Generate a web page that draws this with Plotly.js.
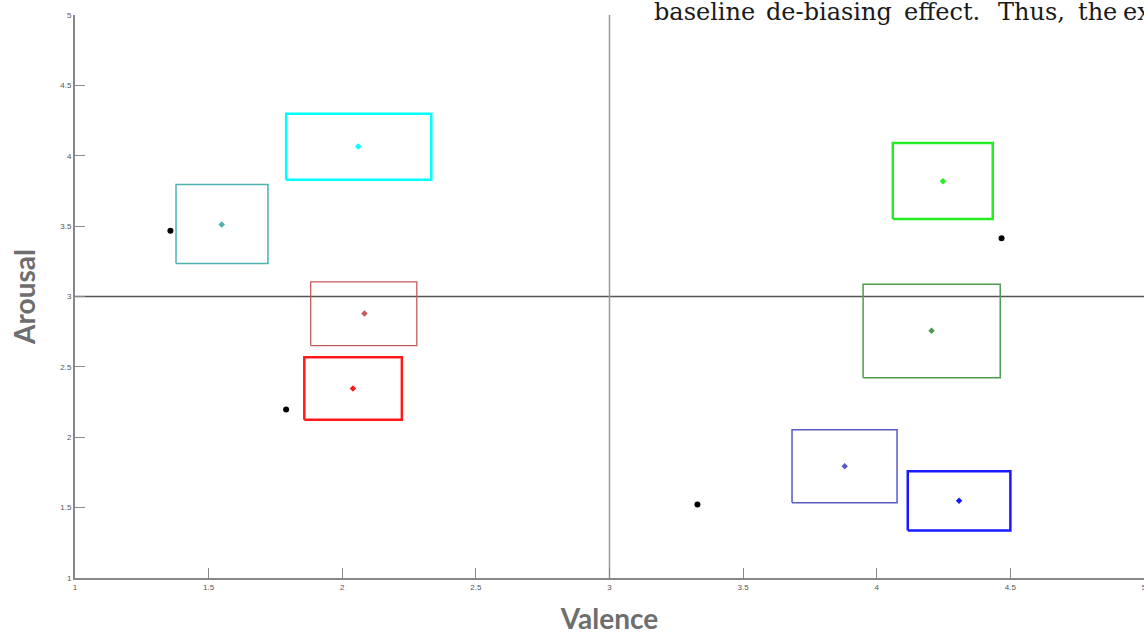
<!DOCTYPE html>
<html><head><meta charset="utf-8">
<script src="https://cdn.plot.ly/plotly-3.0.1.min.js"></script>
<style>html,body{margin:0;padding:0;background:#fff}#chart{width:1144px;height:635px}</style>
</head><body><div id="chart"></div>
<script>
// Rectangles (spread boxes) and their centres
const boxNames   = ['cyan', 'teal', 'darkred', 'red', 'green', 'darkgreen', 'darkblue', 'blue'];
const boxColors  = ['#00ffff', '#4fb0b0', '#c45a5a', '#ff1a1a', '#22ee22', '#4f9a4f', '#5a5ac4', '#1a1aff'];
const boxWidths  = [2.5, 1.5, 1.3, 2.5, 2.5, 1.5, 1.5, 2.5];
const xLow  = [1.790, 1.378, 1.882, 1.858, 4.060, 3.949, 3.683, 4.116];
const xHigh = [2.333, 1.722, 2.279, 2.223, 4.434, 4.462, 4.076, 4.500];
const yLow  = [3.830, 3.234, 2.651, 2.124, 3.551, 2.422, 1.534, 1.337];
const yHigh = [4.299, 3.795, 3.104, 2.568, 4.091, 3.087, 2.053, 1.759];
const centerX = [2.060, 1.549, 2.083, 2.040, 4.248, 4.205, 3.880, 4.308];
const centerY = [4.065, 3.511, 2.879, 2.346, 3.818, 2.756, 1.794, 1.548];
// Black reference points
const refX = [1.357, 1.790, 4.467, 3.329];
const refY = [3.468, 2.197, 3.413, 1.522];
// Neutral lines
const neutral = 3;
const axisMin = 1, axisMax = 5;
const tickVals = [1, 1.5, 2, 2.5, 3, 3.5, 4, 4.5, 5];
const tickText = ['1', '1.5', '2', '2.5', '3', '3.5', '4', '4.5', '5'];
// Overlapping body text from the page (justified words, centre pixel of each word)
const pageWords = ['baseline', 'de-biasing', 'effect.', 'Thus,', 'the', 'ex'];
const pageWordPx = [705, 829, 942, 1031, 1097, 1121];
const pageWordAnchor = ['center', 'center', 'center', 'center', 'center', 'left'];

const traces = [];
traces.push({x:[axisMin, axisMax], y:[neutral, neutral], mode:'lines', line:{color:'#555', width:1.3}, hoverinfo:'skip'});
traces.push({x:[neutral, neutral], y:[axisMin, axisMax], mode:'lines', line:{color:'#999', width:1.5}, hoverinfo:'skip'});
for (let i = 0; i < boxNames.length; i++) {
  traces.push({
    name: boxNames[i],
    x: [xLow[i], xHigh[i], xHigh[i], xLow[i], xLow[i]],
    y: [yLow[i], yLow[i], yHigh[i], yHigh[i], yLow[i]],
    mode: 'lines', line: {color: boxColors[i], width: boxWidths[i]}
  });
  traces.push({
    x: [centerX[i]], y: [centerY[i]], mode: 'markers',
    marker: {symbol: 'diamond', size: 5, color: boxColors[i]}
  });
}
traces.push({x: refX, y: refY, mode: 'markers', marker: {color: '#000', size: 6}});

const annotations = pageWords.map((w, i) => ({
  xref: 'paper', yref: 'paper', x: (pageWordPx[i] - 75) / 1069, y: 1, yshift: 19,
  xanchor: pageWordAnchor[i], yanchor: 'top', showarrow: false, text: w,
  font: {family: '"DejaVu Serif", serif', size: 24, color: '#1a1a1a'}
}));

const layout = {
  width: 1144, height: 635,
  margin: {l: 75, r: 0, t: 15, b: 57},
  paper_bgcolor: '#fff', plot_bgcolor: '#fff',
  showlegend: false,
  font: {family: 'Liberation Sans, Arial, sans-serif', size: 8, color: '#555'},
  xaxis: {
    range: [axisMin, axisMax], tickvals: tickVals, ticktext: tickText,
    showgrid: false, zeroline: false, showline: true, linecolor: '#888', linewidth: 2,
    ticks: 'inside', ticklen: 10, tickcolor: '#888', tickwidth: 1.2,
    tickfont: {size: 8, color: '#555'}, ticklabeloverflow: 'allow',
    title: {text: 'Valence', standoff: 25, font: {family: 'Lato, "Open Sans", sans-serif', size: 28, color: '#6e6e6e', weight: 'bold'}}
  },
  yaxis: {
    range: [axisMin, axisMax], tickvals: tickVals, ticktext: tickText,
    showgrid: false, zeroline: false, showline: true, linecolor: '#888', linewidth: 2,
    ticks: 'inside', ticklen: 10, tickcolor: '#888', tickwidth: 1.2,
    tickfont: {size: 8, color: '#555'},
    title: {text: 'Arousal', standoff: 16, font: {family: 'Lato, "Open Sans", sans-serif', size: 28, color: '#6e6e6e', weight: 'bold'}}
  },
  annotations: annotations
};
Plotly.newPlot('chart', traces, layout, {displayModeBar: false, staticPlot: true});
</script></body></html>
